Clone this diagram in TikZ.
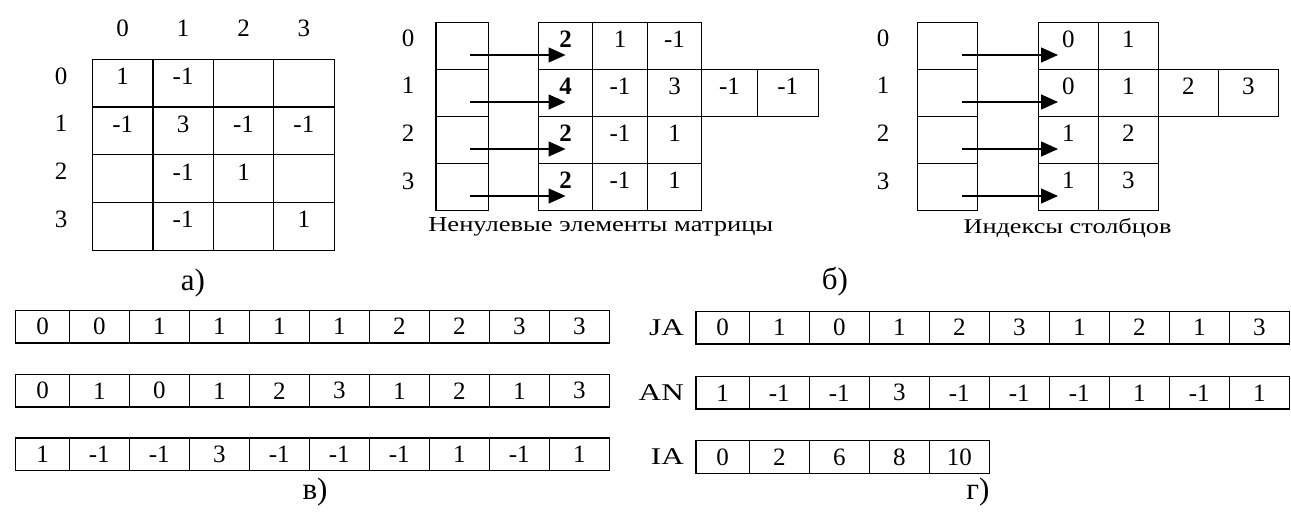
\documentclass[tikz,border=0pt]{standalone}
\usepackage{graphicx}
\usepackage{fontspec}
\setmainfont{Liberation Serif}
\newfontfamily\capfont[FakeStretch=1.3]{Liberation Serif}
\usetikzlibrary{arrows.meta,calc,positioning}

\tikzset{
  box/.style={draw, line width=1.2pt, inner sep=0pt, font=\fontsize{25}{25}\selectfont},
  tallbox/.style={box, text height=25.5pt, text depth=22pt},
  flatbox/.style={box, minimum height=32.5pt},
  idx/.style={inner sep=0pt, font=\fontsize{25}{25}\selectfont},
  ptr/.style={line width=1.3pt, -{Triangle[length=17pt, width=15pt]}},
  caption/.style={inner sep=0pt, font=\capfont\fontsize{21}{21}\selectfont},
  part/.style={inner sep=0pt, font=\fontsize{31}{31}\selectfont},
  arrname/.style={inner sep=0pt, anchor=east, font=\capfont\fontsize{24}{24}\selectfont},
}

\begin{document}
\begin{tikzpicture}[x=1pt, y=-1pt]
  \useasboundingbox (0,0) rectangle (1291,515);

  % a) the matrix itself
  \foreach \ci in {0,...,3}
    \node[idx] (mc\ci) at (122.7+60.4*\ci, 28) {\ci};
  \foreach \ri in {0,...,3}
    \node[idx] (mr\ri) at (61, 76+47.7*\ri) {\ri};
  \foreach \v [count=\k from 0] in {1,-1,{},{},-1,3,-1,-1,{},-1,1,{},{},-1,{},1} {
    \pgfmathtruncatemacro\ri{floor(\k/4)}
    \pgfmathtruncatemacro\ci{mod(\k,4)}
    \node[tallbox, minimum width=60.4pt, text depth=22.2pt] (m\ri\ci) at (122.7+60.4*\ci, 83.15+47.7*\ri) {\v};
  }
  \node[part] (pa) at (193, 283) {а)};

  % b) rows as linked lists: values
  \def\nx{{565.55,620.05,674.55,729.55,787.8}}
  \def\nw{{54.5,54.5,54.5,55.5,61}}
  \foreach \ri/\vals in {0/{\textbf{2},1,-1}, 1/{\textbf{4},-1,3,-1,-1}, 2/{\textbf{2},-1,1}, 3/{\textbf{2},-1,1}} {
    \node[idx] (nr\ri) at (408, 38+47.7*\ri) {\ri};
    \node[tallbox, minimum width=52.3pt, text height=25pt] (nl\ri) at (462.2, 46.2+47*\ri) {};
    \foreach \v [count=\j from 0] in \vals {
      \pgfmathsetmacro\x{\nx[\j]}
      \pgfmathsetmacro\w{\nw[\j]}
      \node[tallbox, minimum width=\w pt, text height=25pt] (nv\ri\j) at (\x, 46.2+47*\ri) {\v};
    }
  }
  \node[caption] (ncap) at (600.8, 227) {\resizebox{345pt}{14pt}{Ненулевые элементы матрицы}};

  % b) rows as linked lists: column indices
  \foreach \ri/\vals in {0/{0,1}, 1/{0,1,2,3}, 2/{1,2}, 3/{1,3}} {
    \node[idx] (ir\ri) at (883, 38+47.7*\ri) {\ri};
    \node[tallbox, minimum width=60pt, text height=25pt] (il\ri) at (947.7, 46.2+47*\ri) {};
    \foreach \v [count=\j from 0] in \vals
      \node[tallbox, minimum width=60pt, text height=25pt] (iv\ri\j) at (1068.3+60*\j, 46.2+47*\ri) {\v};
  }
  \node[caption] (icap) at (1067.5, 228) {\resizebox{208pt}{15pt}{Индексы столбцов}};

  \foreach \ri in {0,...,3} {
    \draw[ptr] ($(nl\ri.center)+(8,8.8)$) -- ($(nv\ri0.center)+(0,8.8)$);
    \draw[ptr] ($(il\ri.center)+(14,8.8)$) -- ($(iv\ri0.center)+(-10.3,8.8)$);
  }
  \node[part] (pb) at (835, 282) {б)};

  % c) coordinate format
  \foreach \ri/\y/\vals in {0/326.7/{0,0,1,1,1,1,2,2,3,3}, 1/390.8/{0,1,0,1,2,3,1,2,1,3}, 2/454.2/{1,-1,-1,3,-1,-1,-1,1,-1,1}} {
    \foreach \v [count=\j from 0] in \vals {
      \pgfmathsetmacro\x{\j==0 ? 42.5 : 39.3+60*\j}
      \pgfmathsetmacro\w{\j==0 ? 53.6 : 60}
      \node[flatbox, minimum width=\w pt] (c\ri-\j) at (\x, \y) {\v};
    }
  }
  \node[part] (pc) at (315, 492) {в)};

  % d) compressed row storage
  \foreach \nm/\y/\vals in {ja/327.7/{0,1,0,1,2,3,1,2,1,3}, an/392.8/{1,-1,-1,3,-1,-1,-1,1,-1,1}, ia/457/{0,2,6,8,10}} {
    \foreach \v [count=\j from 0] in \vals {
      \pgfmathsetmacro\x{\j==0 ? 722.65 : 719.3+60*\j}
      \pgfmathsetmacro\w{\j==0 ? 53.3 : 60}
      \node[flatbox, minimum width=\w pt] (\nm-\j) at (\x, \y) {\v};
    }
  }
  \node[arrname] (janame) at (684, 327.7) {JA};
  \node[arrname] (anname) at (684, 392.8) {AN};
  \node[arrname] (ianame) at (684, 457) {IA};
  \node[part] (pd) at (978, 492) {г)};
\end{tikzpicture}
\end{document}
